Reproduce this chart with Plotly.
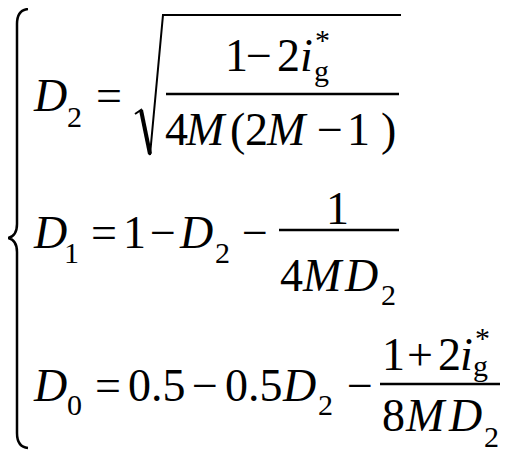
import plotly.graph_objects as go

# Text fragments of the equation system (one list per row)
row1_text = ["D", "2", "=", "1", "−", "2", "i", "*", "g",
             "4", "M", "(", "2", "M", "−", "1", ")"]
row2_text = ["D", "1", "=", "1", "−", "D", "2", "−",
             "1", "4", "M", "D", "2"]
row3_text = ["D", "0", "=", "0.5", "−", "0.5", "D", "2", "−",
             "1", "+", "2", "i", "*", "g", "8", "M", "D", "2"]

# placement: (ink centre x, baseline y, size, italic)
BIG, SMALL = 46, 30
row1_pos = [(50, 108, BIG, 1), (74, 123, SMALL, 0), (109, 108, BIG, 0),
            (236, 68, BIG, 0), (259, 68, BIG, 0), (288, 68, BIG, 0),
            (306, 68, BIG, 1), (322, 46, SMALL, 0), (321, 77, SMALL, 0),
            (176, 142, BIG, 0), (206, 142, BIG, 1), (237, 142, BIG, 0),
            (256, 142, BIG, 0), (287, 142, BIG, 1), (330, 142, BIG, 0),
            (358, 142, BIG, 0), (388, 142, BIG, 0)]
row2_pos = [(50, 245, BIG, 1), (71, 259, SMALL, 0), (104, 245, BIG, 0),
            (134, 245, BIG, 0), (163, 245, BIG, 0), (196, 245, BIG, 1),
            (222, 259, SMALL, 0), (255, 245, BIG, 0),
            (337, 221, BIG, 0), (291, 288, BIG, 0), (323, 288, BIG, 1),
            (361, 288, BIG, 1), (388, 301, SMALL, 0)]
row3_pos = [(50, 398, BIG, 1), (74, 411, SMALL, 0), (108, 398, BIG, 0),
            (157, 398, BIG, 0), (205, 398, BIG, 0), (254, 398, BIG, 0),
            (299, 398, BIG, 1), (325, 411, SMALL, 0), (360, 398, BIG, 0),
            (393, 367, BIG, 0), (420, 367, BIG, 0), (449, 367, BIG, 0),
            (466, 367, BIG, 1), (482, 344, SMALL, 0), (480, 372, SMALL, 0),
            (393, 428, BIG, 0), (426, 428, BIG, 1), (465, 428, BIG, 1),
            (491, 443, SMALL, 0)]

FONT = "Liberation Serif"

fig = go.Figure()
fig.add_trace(go.Scatter(x=[8, 520], y=[8, 465], mode="markers",
                         marker=dict(opacity=0), hoverinfo="skip", showlegend=False))


def put(txt, x, base, size, italic):
    # centre of the text box sits a bit above the baseline
    if italic:
        txt = "<i>" + txt + "</i>"
    fig.add_annotation(x=x, y=base - 0.3375 * size + 3.5, text=txt, showarrow=False,
                       xanchor="center", yanchor="middle", borderpad=0, borderwidth=0,
                       font=dict(family=FONT, size=size, color="black"))


for texts, spots in [(row1_text, row1_pos), (row2_text, row2_pos), (row3_text, row3_pos)]:
    for t, (x, b, s, it) in zip(texts, spots):
        put(t, x, b, s, it)

line = dict(color="black", width=2.5)
# fraction bars
fig.add_shape(type="line", x0=166, x1=399, y0=94, y1=94, line=line)
fig.add_shape(type="line", x0=279, x1=399, y0=230, y1=230, line=line)
fig.add_shape(type="line", x0=380, x1=500, y0=384, y1=384, line=line)
# radical sign
fig.add_shape(type="path", path="M 135 114 L 141 110 L 150 155 L 163 15 L 401 15",
              line=dict(color="black", width=2))
fig.add_shape(type="line", x0=141, y0=110, x1=150, y1=154, line=dict(color="black", width=4))
# left brace
fig.add_shape(type="path",
              path="M 28 9 Q 17 10 17 24 L 17 224 Q 17 236 8 238 Q 17 240 17 252 "
                   "L 17 433 Q 17 447 28 448",
              line=dict(color="black", width=2.5))

# the page body has an 8px margin, so the axes start at 8 to keep pixel coordinates
fig.update_layout(width=512, height=457, margin=dict(l=0, r=0, t=0, b=0),
                  plot_bgcolor="white", paper_bgcolor="white", showlegend=False)
fig.update_xaxes(range=[8, 520], visible=False, fixedrange=True)
fig.update_yaxes(range=[465, 8], visible=False, fixedrange=True)

fig.write_html("out.html")
